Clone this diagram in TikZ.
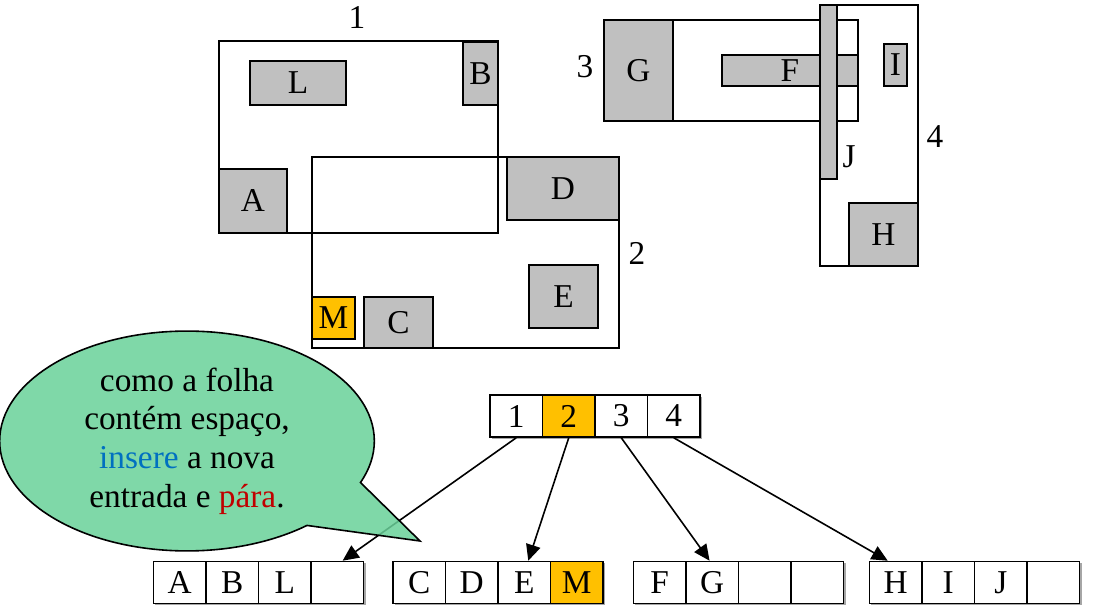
\documentclass[tikz,border=0pt]{standalone}
\usepackage{fontspec}
\setmainfont{Liberation Serif}
\usepackage{tikz}
\usetikzlibrary{arrows.meta, positioning, shapes.callouts, shadows, matrix, fit}

\definecolor{objgray}{HTML}{C0C0C0}
\definecolor{hilite}{HTML}{FFC000}
\definecolor{bubblegreen}{HTML}{69D199}
\definecolor{insblue}{HTML}{0070C0}
\definecolor{stopred}{HTML}{C00000}

\begin{document}
\begin{tikzpicture}[x=0.75pt, y=-0.75pt,
    font=\fontsize{25}{29}\selectfont,
    region/.style={draw, line width=1.2pt},
    obj/.style={draw, line width=1.2pt, fill=objgray, inner sep=0pt},
    newobj/.style={obj, fill=hilite},
    cell/.style={draw, line width=1.2pt, fill=white, minimum width=39.4pt, minimum height=31.5pt, inner sep=0pt, anchor=center,
        drop shadow={shadow xshift=1.5pt, shadow yshift=-1.5pt, opacity=0.35, fill=black}},
    leaf/.style={matrix of nodes, nodes={cell}, nodes in empty cells, column sep=-1.2pt, ampersand replacement=\&},
    link/.style={line width=1.2pt, -{Triangle[length=12pt, width=11pt]}},
    bubble/.style={ellipse callout, draw, line width=1.2pt, fill=bubblegreen, fill opacity=0.85, text opacity=1,
        minimum width=281pt, minimum height=133.5pt, callout pointer arc=28, align=center}
]
\useasboundingbox (0,0) rectangle (1093,616);

% Regions 1 and 2
\draw[region] (219,41) rectangle (498,233);
\node (lab1) at (357,18) {1};
\node[obj, fit={(250,61) (346,105)}, label=center:L] (L) {};
\node[obj, fit={(463,42) (498,105)}, label=center:B] (B) {};
\node[obj, fit={(219,169) (287,233)}, label=center:A] (A) {};

\draw[region] (312,157) rectangle (619,348);
\node (lab2) at (637,253) {2};
\node[obj, fit={(507,157) (619,220)}, label=center:D] (D) {};
\node[obj, fit={(529,265) (598,328)}, label=center:E] (E) {};
\node[newobj, fit={(312,297) (355,339)}, label=center:M] (M) {};
\node[obj, fit={(364,297) (433,348)}, label=center:C] (C) {};

% Regions 3 and 4
\draw[region] (604,20) rectangle (858,121);
\node (lab3) at (585,67) {3};
\node[obj, fit={(604,20) (673,121)}, label=center:G] (G) {};
\node[obj, fit={(722,55) (858,86)}, label=center:F] (F) {};

\draw[region] (820,5) rectangle (918,266);
\node (lab4) at (935,137) {4};
\node[obj, fit={(820,5) (837,179)}] (J) {};
\node (labJ) at (849,157) {J};
\node[obj, fit={(884,44) (907,86)}, label=center:I] (I) {};
\node[obj, fit={(849,203) (918,266)}, label=center:H] (H) {};

% Tree: root and leaves
\matrix[leaf] (root) at (595,416) {
    1 \& |[fill=hilite]| 2 \& 3 \& 4 \\
};
\matrix[leaf] (leafABL) at (258.5,582.5) {
    A \& B \& L \& \\
};
\matrix[leaf] (leafCDEM) at (498,582.5) {
    C \& D \& E \& |[fill=hilite]| M \\
};
\matrix[leaf] (leafFG) at (738.5,582.5) {
    F \& G \& \& \\
};
\matrix[leaf] (leafHIJ) at (974.5,582.5) {
    H \& I \& J \& \\
};

\draw[link] (root-1-1.south) -- ([xshift=4pt]leafABL-1-4.north);
\draw[link] (root-1-2.south) -- ([xshift=3pt]leafCDEM-1-3.north);
\draw[link] (root-1-3.south) -- ([xshift=-2pt]leafFG-1-2.north);
\draw[link] (root-1-4.south) -- ([xshift=-6pt]leafHIJ-1-1.north);

% Callout
\node[bubble, callout absolute pointer={(420,541)}] (note) at (187,441) {como a folha\\contém espaço,\\{\color{insblue}insere} a nova\\entrada e {\color{stopred}pára}.};

\end{tikzpicture}
\end{document}
